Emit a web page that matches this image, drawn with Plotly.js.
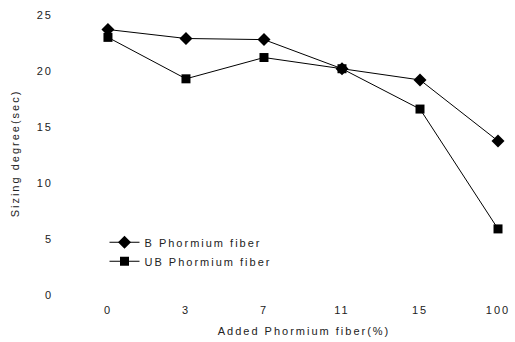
<!DOCTYPE html>
<html>
<head>
<meta charset="utf-8">
<script src="https://cdn.plot.ly/plotly-3.0.1.min.js"></script>
<style>
html,body{margin:0;padding:0;background:#fff;}
#chart{width:515px;height:342px;}
svg text{letter-spacing:2px;}
</style>
</head>
<body>
<div id="chart"></div>
<script>
var categories = ["0", "3", "7", "11", "15", "100"];
var bValues = [23.7, 22.9, 22.8, 20.2, 19.2, 13.75];
var ubValues = [23.0, 19.3, 21.2, 20.2, 16.6, 5.9];
var yTicks = [0, 5, 10, 15, 20, 25];

var idx = categories.map(function(c, i){ return i; });

var traces = [
  {
    x: idx, y: bValues, name: "B Phormium fiber",
    mode: "lines+markers", type: "scatter",
    line: {color: "#000", width: 1},
    marker: {symbol: "diamond", size: 10, color: "#000"}
  },
  {
    x: idx, y: ubValues, name: "UB Phormium fiber",
    mode: "lines+markers", type: "scatter",
    line: {color: "#000", width: 1},
    marker: {symbol: "square", size: 9, color: "#000"}
  }
];

var layout = {
  width: 515, height: 342,
  margin: {l: 94, r: 1, t: 5, b: 40},
  paper_bgcolor: "#fff", plot_bgcolor: "#fff",
  font: {family: "Liberation Sans, Arial, sans-serif", size: 11, color: "#222"},
  showlegend: true,
  legend: {x: 0.025, y: 0.25, xanchor: "left", yanchor: "top", bgcolor: "rgba(0,0,0,0)", font: {size: 11}},
  xaxis: {
    range: [-0.179, 5.205],
    tickmode: "array", tickvals: idx, ticktext: categories,
    showgrid: false, zeroline: false, showline: false, ticks: "",
    title: {text: "Added Phormium fiber(%)", font: {size: 11}, standoff: 12}
  },
  yaxis: {
    range: [-0.625, 25.89],
    tickmode: "array", tickvals: yTicks,
    showgrid: false, zeroline: false, showline: false, ticks: "",
    ticklabelstandoff: 40,
    title: {text: "Sizing degree(sec)", font: {size: 11}, standoff: 14}
  }
};

Plotly.newPlot("chart", traces, layout, {displayModeBar: false, staticPlot: true});
</script>
</body>
</html>
